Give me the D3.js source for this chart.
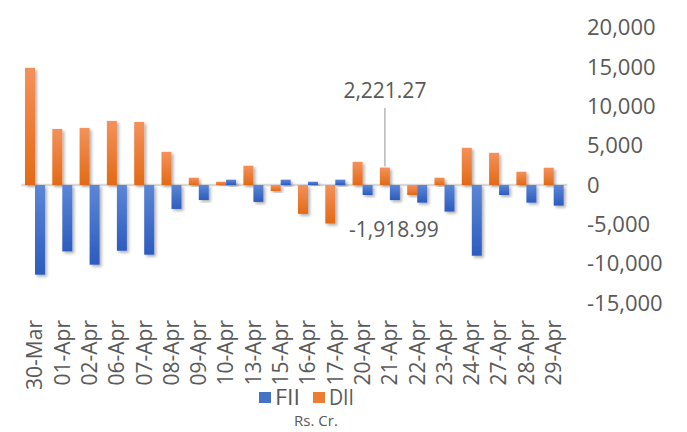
<!DOCTYPE html>
<html>
<head>
<meta charset="utf-8">
<script src="https://cdn.jsdelivr.net/npm/d3@7"></script>
<style>
  body { margin: 0; background: #fff; }
  text { font-family: "Open Sans", sans-serif; fill: #595959; }
</style>
</head>
<body>
<script>
// dates on the x axis
const dates = ["30-Mar", "01-Apr", "02-Apr", "06-Apr", "07-Apr", "08-Apr", "09-Apr", "10-Apr",
  "13-Apr", "15-Apr", "16-Apr", "17-Apr", "20-Apr", "21-Apr", "22-Apr", "23-Apr",
  "24-Apr", "27-Apr", "28-Apr", "29-Apr"];

// net flows, Rs. Cr
const dii = [14900, 7130, 7260, 8150, 8020, 4220, 930, 420,
  2450, -760, -3670, -4900, 2950, 2221.27, -1270, 930,
  4730, 4090, 1690, 2200];
const fii = [-11400, -8440, -10130, -8360, -8860, -3040, -1900, 680,
  -2150, 680, 420, 680, -1270, -1918.99, -2240, -3380,
  -8990, -1270, -2240, -2620];

const yTicks = [20000, 15000, 10000, 5000, 0, -5000, -10000, -15000];
const seriesNames = ["DII", "FII"];
const legendNames = ["FII", "DII"];

const W = 687, H = 432;

// excel style: plain hyphen for negatives
const fmtInt = v => d3.format(",")(v).replace("\u2212", "-");
const fmtDec = v => d3.format(",.2f")(v).replace("\u2212", "-");

const svg = d3.select("body").append("svg")
  .attr("width", W)
  .attr("height", H);

const defs = svg.append("defs");

const grads = {
  DII: ["#f4915a", "#e36a15"],
  FII: ["#5c86d6", "#2c5cbf"]
};
Object.keys(grads).forEach(k => {
  let g = defs.append("linearGradient")
    .attr("id", "g" + k)
    .attr("x1", 0).attr("y1", 0).attr("x2", 0).attr("y2", 1);
  g.append("stop").attr("offset", "0%").attr("stop-color", grads[k][0]);
  g.append("stop").attr("offset", "100%").attr("stop-color", grads[k][1]);
});

defs.append("filter")
  .attr("id", "shadow")
  .attr("x", "-50%").attr("y", "-20%").attr("width", "200%").attr("height", "140%")
  .append("feDropShadow")
  .attr("dx", 2).attr("dy", 2)
  .attr("stdDeviation", 1.6)
  .attr("flood-color", "#000")
  .attr("flood-opacity", 0.3);

// scales
const x = d3.scaleBand().domain(dates).range([21.3, 567.3]);
const xs = d3.scaleBand().domain(seriesNames).range([3.7, 23.7]);
const y = d3.scaleLinear().domain([-15000, 20000]).range([303, 27.7]);

const rows = dates.map((d, i) => ({ date: d, DII: dii[i], FII: fii[i] }));

// zero line
svg.append("line")
  .attr("x1", x.range()[0]).attr("x2", x.range()[1])
  .attr("y1", y(0)).attr("y2", y(0))
  .attr("stroke", "#d9d9d9")
  .attr("stroke-width", 2.5);

// bars
const groups = svg.selectAll(".cat")
  .data(rows)
  .enter()
  .append("g")
  .attr("class", "cat")
  .attr("transform", d => `translate(${x(d.date)},0)`);

groups.selectAll("rect")
  .data(d => seriesNames.map(s => ({ s: s, v: d[s] })))
  .enter()
  .append("rect")
  .attr("x", d => xs(d.s))
  .attr("width", xs.bandwidth())
  .attr("y", d => y(Math.max(0, d.v)))
  .attr("height", d => Math.abs(y(d.v) - y(0)))
  .attr("fill", d => `url(#g${d.s})`)
  .attr("filter", "url(#shadow)");

// y axis labels on the right
const yAxis = d3.axisRight(y)
  .tickValues(yTicks)
  .tickSize(0)
  .tickPadding(0)
  .tickFormat(fmtInt);

const ya = svg.append("g")
  .attr("transform", `translate(587,0)`)
  .call(yAxis);
ya.select(".domain").remove();
ya.selectAll("text")
  .style("font-size", "22px")
  .style("font-family", "'Open Sans', sans-serif")
  .attr("fill", "#595959");

// x labels, rotated
svg.append("g")
  .selectAll("text")
  .data(dates)
  .enter()
  .append("text")
  .attr("transform", d => `translate(${x(d) + x.bandwidth() / 2},320) rotate(-90)`)
  .attr("text-anchor", "end")
  .attr("dy", "0.35em")
  .style("font-size", "21px")
  .text(d => d);

// data labels for 21-Apr
const i21 = dates.indexOf("21-Apr");
const cx = x("21-Apr");
const dX = cx + xs("DII") + xs.bandwidth() / 2;
const fX = cx + xs("FII") + xs.bandwidth() / 2;

svg.append("line")
  .attr("x1", dX).attr("x2", dX)
  .attr("y1", 108).attr("y2", y(dii[i21]) - 1)
  .attr("stroke", "#a6a6a6")
  .attr("stroke-width", 1.2);

svg.append("text")
  .attr("x", dX)
  .attr("y", 98)
  .attr("text-anchor", "middle")
  .style("font-size", "21px")
  .text(fmtDec(dii[i21]));

svg.append("text")
  .attr("x", fX - 1)
  .attr("y", 237)
  .attr("text-anchor", "middle")
  .style("font-size", "21px")
  .text(fmtDec(fii[i21]));

// legend
const legend = svg.append("g").attr("transform", "translate(259,392)");
const legendX = [0, 54];
legend.selectAll("rect")
  .data(legendNames)
  .enter()
  .append("rect")
  .attr("x", (d, i) => legendX[i])
  .attr("y", 0)
  .attr("width", 12)
  .attr("height", 11)
  .attr("fill", d => d === "FII" ? "#4472c4" : "#ed7d31");

legend.selectAll("text")
  .data(legendNames)
  .enter()
  .append("text")
  .attr("x", (d, i) => legendX[i] + 16)
  .attr("y", 13)
  .style("font-size", "22px")
  .attr("textLength", 25)
  .attr("lengthAdjust", "spacingAndGlyphs")
  .text(d => d);

svg.append("text")
  .attr("x", 316)
  .attr("y", 426)
  .attr("text-anchor", "middle")
  .style("font-size", "15px")
  .text("Rs. Cr.");
</script>
</body>
</html>
